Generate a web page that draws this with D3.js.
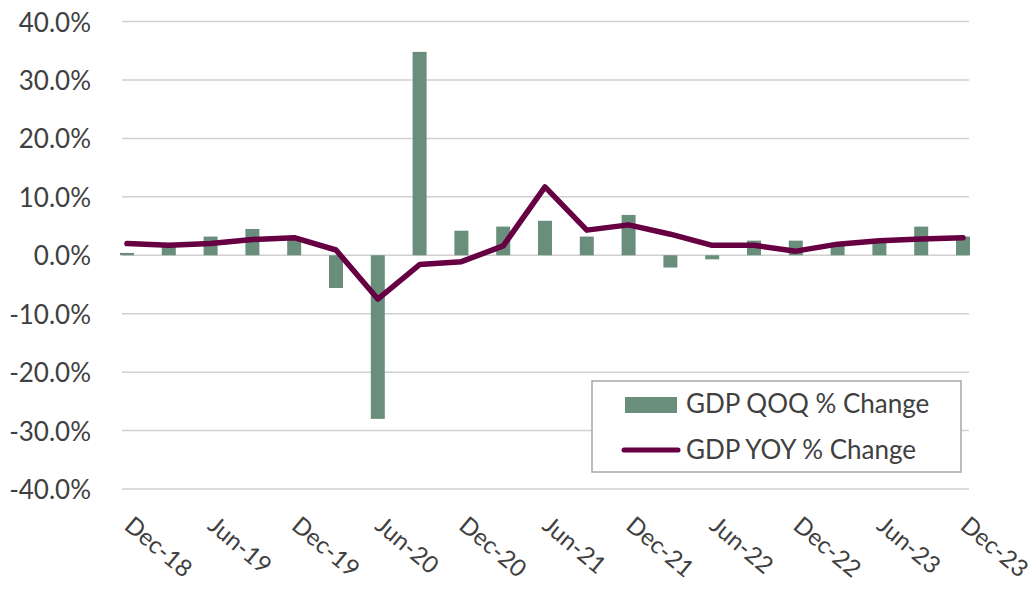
<!DOCTYPE html>
<html>
<head>
<meta charset="utf-8">
<script src="https://cdn.jsdelivr.net/npm/d3@7"></script>
<style>
  body { margin: 0; background: #fff; }
  text { font-family: Lato, "Open Sans", sans-serif; fill: #404040; }
</style>
</head>
<body>
<script>
const quarters = ['Dec-18', 'Mar-19', 'Jun-19', 'Sep-19', 'Dec-19', 'Mar-20', 'Jun-20', 'Sep-20', 'Dec-20',
    'Mar-21', 'Jun-21', 'Sep-21', 'Dec-21', 'Mar-22', 'Jun-22', 'Sep-22', 'Dec-22', 'Mar-23', 'Jun-23',
    'Sep-23', 'Dec-23'];
const tickLabels = ['Dec-18', 'Jun-19', 'Dec-19', 'Jun-20', 'Dec-20', 'Jun-21', 'Dec-21', 'Jun-22',
    'Dec-22', 'Jun-23', 'Dec-23'];
const qoqChange = [0.4, 1.8, 3.2, 4.5, 2.9, -5.6, -28.0, 34.8, 4.2, 4.9, 5.9, 3.2, 6.9, -2.1, -0.7,
    2.5, 2.5, 2.0, 2.1, 4.9, 3.2];
const yoyChange = [2.0, 1.7, 2.0, 2.7, 3.0, 0.9, -7.5, -1.6, -1.1, 1.6, 11.7, 4.3, 5.2, 3.6, 1.7,
    1.7, 0.7, 1.9, 2.5, 2.8, 3.0];
const yTicks = [-40, -30, -20, -10, 0, 10, 20, 30, 40];
const seriesNames = ['GDP QOQ % Change', 'GDP YOY % Change'];

const width = 1036;
const height = 589;
const barColor = '#6a8e7c';
const lineColor = '#660042';

var svg = d3.select('body')
    .append('svg')
    .attr('width', width)
    .attr('height', height);

var x_scale = d3.scalePoint()
    .domain(quarters)
    .range([127, 963]);

var y_scale = d3.scaleLinear()
    .domain([-40, 40])
    .range([489, 21.5]);

// gridlines
svg.append('g')
    .selectAll('line')
    .data(yTicks)
    .enter()
    .append('line')
    .attr('x1', 122)
    .attr('x2', 969)
    .attr('y1', d => y_scale(d))
    .attr('y2', d => y_scale(d))
    .attr('stroke', '#d0d0d0')
    .attr('stroke-width', 1.5);

// y labels
svg.append('g')
    .selectAll('text')
    .data(yTicks)
    .enter()
    .append('text')
    .attr('x', 91)
    .attr('y', d => y_scale(d))
    .attr('text-anchor', 'end')
    .attr('dominant-baseline', 'central')
    .style('font-size', '26px')
    .text(d => d.toFixed(1) + '%');

// bars
svg.append('g')
    .selectAll('rect')
    .data(qoqChange)
    .enter()
    .append('rect')
    .attr('x', (d, i) => x_scale(quarters[i]) - 7)
    .attr('width', 14)
    .attr('y', d => y_scale(Math.max(0, d)))
    .attr('height', d => Math.abs(y_scale(d) - y_scale(0)))
    .attr('fill', barColor);

// yoy line
var line = d3.line()
    .x((d, i) => x_scale(quarters[i]))
    .y(d => y_scale(d));

svg.append('path')
    .datum(yoyChange)
    .attr('d', line)
    .attr('fill', 'none')
    .attr('stroke', lineColor)
    .attr('stroke-width', 5.5)
    .attr('stroke-linejoin', 'round')
    .attr('stroke-linecap', 'round');

// x labels
svg.append('g')
    .selectAll('text')
    .data(tickLabels)
    .enter()
    .append('text')
    .attr('transform', d => 'translate(' + (x_scale(d) - 4) + ',528) rotate(40)')
    .style('font-size', '24px')
    .text(d => d);

// legend
var legend = svg.append('g');
legend.append('rect')
    .attr('x', 592)
    .attr('y', 381)
    .attr('width', 369)
    .attr('height', 91)
    .attr('fill', '#fff')
    .attr('stroke', '#a6a6a6')
    .attr('stroke-width', 1.5);

var items = legend.selectAll('g.item')
    .data(seriesNames)
    .enter()
    .append('g')
    .attr('class', 'item')
    .attr('transform', (d, i) => 'translate(0,' + (i * 46) + ')');

items.filter((d, i) => i === 0)
    .append('rect')
    .attr('x', 625)
    .attr('y', 397)
    .attr('width', 52)
    .attr('height', 16)
    .attr('fill', barColor);

items.filter((d, i) => i === 1)
    .append('line')
    .attr('x1', 624)
    .attr('x2', 678)
    .attr('y1', 404)
    .attr('y2', 404)
    .attr('stroke', lineColor)
    .attr('stroke-width', 5)
    .attr('stroke-linecap', 'round');

items.append('text')
    .attr('x', 686)
    .attr('y', 413)
    .style('font-size', '26px')
    .text(d => d);
</script>
</body>
</html>
